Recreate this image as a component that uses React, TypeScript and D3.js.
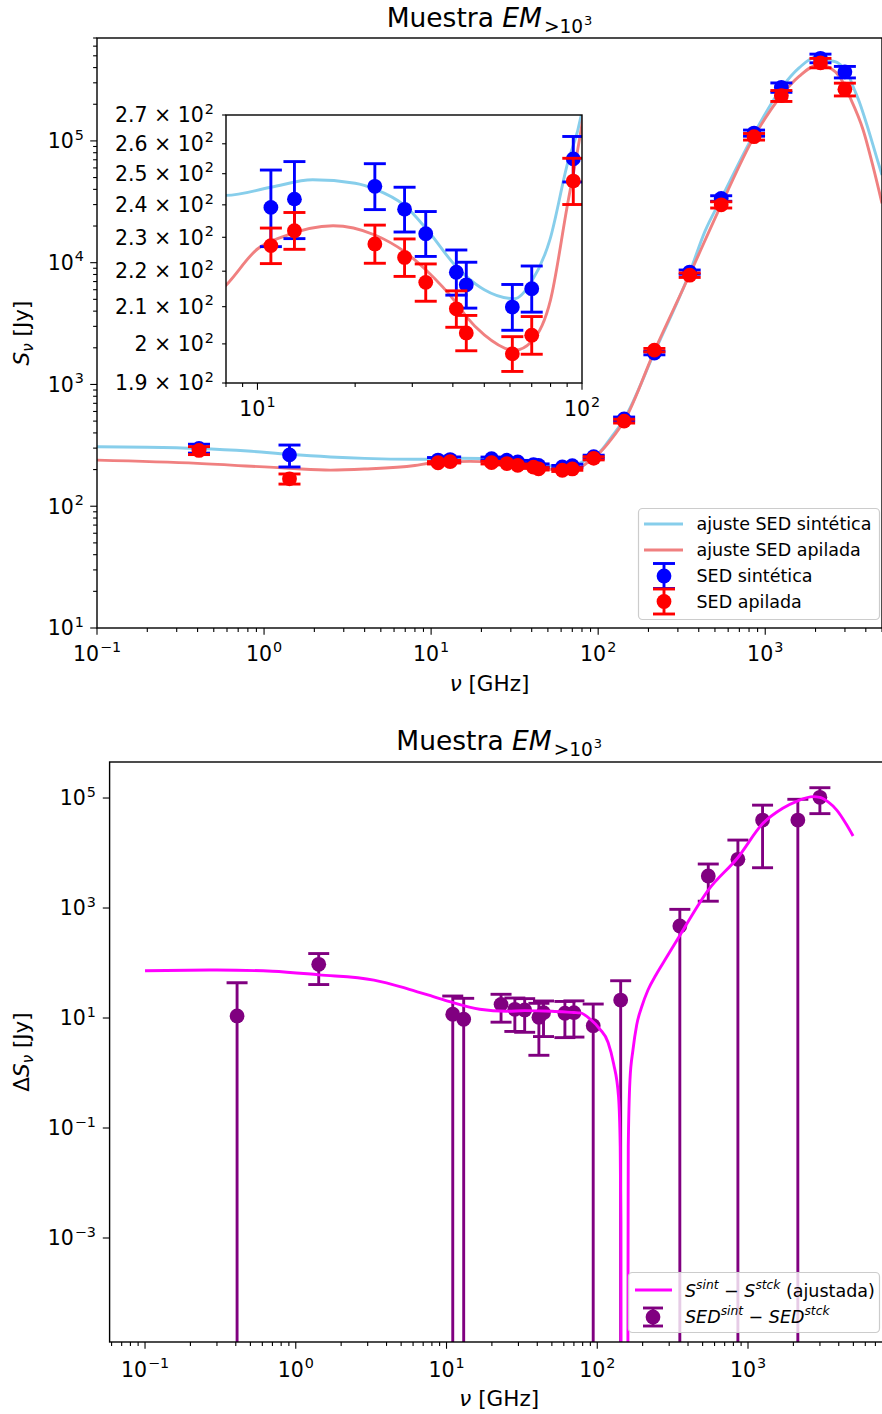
import React from "react";
import * as d3 from "d3";

const FONT = "'DejaVu Sans', sans-serif";

// Frequencies of the SED points (GHz)
const nu = [0.408, 1.42, 11, 13, 23, 28.4, 33, 41, 44, 61, 70, 94, 143, 217, 353, 545, 857, 1249, 2141, 2998];
// Synthetic SED (Jy) and 1-sigma errors
const sedSint = [298, 264, 239.2, 241.8, 245.9, 238.6, 231.1, 219.7, 216.1, 209.9, 215.0, 254.9, 521, 1811, 8370, 33700, 116000, 274900, 477000, 369000];
const sedSintErr = [25, 54, 12.0, 12.2, 7.4, 7.0, 6.8, 6.5, 6.5, 6.3, 6.5, 7.6, 19, 60, 336, 1760, 6740, 24300, 38900, 40000];
// Stacked SED (Jy) and 1-sigma errors
const sedStck = [287, 168, 227.5, 232.0, 228.0, 224.0, 216.8, 209.4, 202.9, 197.4, 202.3, 247.6, 500, 1914, 7900, 29880, 108330, 235100, 437200, 266000];
const sedStckErr = [21.5, 16, 5.3, 5.6, 5.7, 5.5, 5.3, 5.0, 4.7, 4.5, 5.0, 7.5, 18, 62, 336, 1760, 6740, 24300, 38900, 32000];

// Fitted SED models, sampled as [GHz, Jy]
const fitSint: [number, number][] = [
  [0.1, 308], [0.2, 305], [0.4, 298], [0.8, 284], [1.4, 267], [2.5, 254], [4, 247], [8, 243],
  [11, 245.6], [14.8, 248], [20, 246.9], [23, 245], [28.4, 239.8], [33, 232.8], [41, 221.3],
  [44, 218.5], [50, 214.7], [62, 212.2], [70, 217.1], [79.6, 229.2], [89.8, 252.5], [99.7, 270.6],
  [120, 370], [143, 518], [217, 1830], [353, 8300], [435, 18000], [545, 33500], [857, 114000],
  [1249, 272000], [1600, 400000], [2030, 490000], [2500, 455000], [2700, 440000], [2925, 400000],
  [3200, 330000], [3357, 280000], [3700, 200000], [4036, 139000], [4634, 74000], [5000, 52400],
];
const fitStck: [number, number][] = [
  [0.1, 239], [0.4, 225], [1.4, 205], [2.5, 198], [4, 202], [8, 216], [10, 226.5], [12, 230.2],
  [17.1, 233.5], [23, 230.7], [28.4, 225.7], [33, 220.4], [41, 211], [44, 207.3], [50, 202.4],
  [62, 198.3], [70, 200.6], [80, 211.9], [90, 239.5], [99.7, 266], [120, 355], [143, 500],
  [217, 1880], [353, 8000], [545, 29800], [857, 108000], [1249, 236000], [1600, 340000],
  [2075, 420000], [2500, 390000], [2793, 336000], [3206, 230000], [3856, 123000], [4426, 61200],
  [5000, 30700],
];

// Difference between synthetic and stacked SEDs
const nuDiff = [0.408, 1.42, 11, 13, 23, 28.4, 33, 41, 44, 61, 70, 94, 143, 353, 545, 857, 1249, 2141, 2998];
const diffValues = [10.9, 94.6, 11.7, 9.5, 17.7, 14.4, 14.0, 10.3, 12.5, 12.2, 12.5, 7.25, 21.2, 471, 3820, 7670, 39800, 39800, 103000];
const diffErrors = [33, 54, 13.4, 13.3, 9.3, 8.7, 8.5, 8.2, 7.9, 7.8, 8.0, 10.7, 26.4, 475, 2490, 9530, 34400, 55000, 51000];
// Difference of the fitted models (positive part only, split at the sign change)
const diffFitLow: [number, number][] = [
  [0.1, 72.5], [0.3, 74.5], [0.7, 71], [1.42, 61], [3.3, 49], [5.66, 33.3], [8, 25], [10.5, 19.8],
  [16.6, 14.4], [25, 13.3], [33, 13.6], [50, 13.3], [70, 12.6], [77, 12.4], [90, 9.5], [104, 6.3],
  [118, 3.6], [128.2, 1.5], [138.4, 0.37], [142, 0.046], [143.3, 0.002], [143.7, 1e-6],
];
const diffFitHigh: [number, number][] = [
  [159.5, 1e-6], [160.2, 0.002], [160.6, 0.045], [164.8, 0.75], [172.5, 2.62], [182.6, 7.46],
  [198, 16.5], [217, 32.3], [245, 60.5], [281, 113], [348, 297], [545, 2120], [857, 8300],
  [1249, 34000], [1700, 65000], [2141, 89000], [2700, 106000], [2998, 103000], [3400, 85000],
  [3880, 60300], [4500, 33000], [4980, 20400],
];

// Tick label data
const topXExps = [-1, 0, 1, 2, 3];
const topYExps = [1, 2, 3, 4, 5];
const insetXExps = [1, 2];
const insetYTicks = [190, 200, 210, 220, 230, 240, 250, 260, 270];
const insetYMantissas = ["1.9", "2", "2.1", "2.2", "2.3", "2.4", "2.5", "2.6", "2.7"];
const botXExps = [-1, 0, 1, 2, 3];
const botYExps = [-3, -1, 1, 3, 5];

const FS_TICK = 20.5;
const FS_LABEL = 21.5;
const FS_TITLE = 26.5;
const FS_LEG = 17.5;
const LW = 2.9;
const MAJ = 6.8;
const MIN = 3.9;
const SPINE = 1.4;

const COL_SINT_FIT = "#87CEEB";
const COL_STCK_FIT = "#F08080";
const COL_SINT = "#0000FF";
const COL_STCK = "#FF0000";
const COL_DIFF = "#800080";
const COL_DIFF_FIT = "#FF00FF";

const expStr = (e: number) => (e < 0 ? "\u2212" + Math.abs(e) : String(e));
const isDecade = (v: number) => Math.abs(Math.log10(v) - Math.round(Math.log10(v))) < 1e-9;

function Pow10({ x, y, exp, anchor, fs }: { x: number; y: number; exp: number; anchor: "start" | "middle" | "end"; fs: number }) {
  return (
    <text x={x} y={y} textAnchor={anchor} fontSize={fs} fontFamily={FONT} fill="#000">
      <tspan>10</tspan>
      <tspan fontSize={fs * 0.7} dx={1} dy={-fs * 0.42}>{expStr(exp)}</tspan>
    </text>
  );
}

type Scale = d3.ScaleLogarithmic<number, number>;

function ErrorBars({ xs, vs, es, x, y, color, floor, r, capHalf }: {
  xs: number[]; vs: number[]; es: number[]; x: Scale; y: Scale; color: string; floor: number; r: number; capHalf: number;
}) {
  return (
    <g>
      {xs.map((f, i) => {
        const cx = x(f);
        const cy = y(vs[i]);
        const hi = vs[i] + es[i];
        const lo = vs[i] - es[i];
        const yHi = y(hi);
        const yLo = lo > 0 ? y(lo) : floor;
        return (
          <g key={i}>
            <line x1={cx} x2={cx} y1={yHi} y2={yLo} stroke={color} strokeWidth={LW} />
            <line x1={cx - capHalf} x2={cx + capHalf} y1={yHi} y2={yHi} stroke={color} strokeWidth={LW} />
            {lo > 0 && <line x1={cx - capHalf} x2={cx + capHalf} y1={yLo} y2={yLo} stroke={color} strokeWidth={LW} />}
            <circle cx={cx} cy={cy} r={r} fill={color} />
          </g>
        );
      })}
    </g>
  );
}

function curvePath(pts: [number, number][], x: Scale, y: Scale) {
  return (
    d3
      .line<[number, number]>()
      .x((d) => x(d[0]))
      .y((d) => y(d[1]))
      .curve(d3.curveMonotoneX)(pts) || ""
  );
}

function Title({ x, y }: { x: number; y: number }) {
  return (
    <text x={x} y={y} textAnchor="middle" fontSize={FS_TITLE}>
      <tspan>Muestra </tspan>
      <tspan fontStyle="italic">EM</tspan>
      <tspan fontSize={FS_TITLE * 0.7} dx={2} dy={FS_TITLE * 0.22}>{">10"}</tspan>
      <tspan fontSize={FS_TITLE * 0.49} dx={1} dy={-FS_TITLE * 0.3}>3</tspan>
    </text>
  );
}

export default function App() {
  // ---------- Upper panel ----------
  const tL = 97, tR = 882, tT = 38, tB = 628;
  const xT = d3.scaleLog().domain([0.1, 5000]).range([tL, tR]);
  const yT = d3.scaleLog().domain([10, 7e5]).range([tB, tT]);

  // Inset
  const iL = 226, iR = 582, iT = 115, iB = 383;
  const xI = d3.scaleLog().domain([8, 100]).range([iL, iR]);
  const yI = d3.scaleLog().domain([190, 270]).range([iB, iT]);

  // ---------- Lower panel ----------
  const bL = 109.6, bR = 888.8, bT = 762, bB = 1342;
  const xB = d3.scaleLog().domain([Math.pow(10, -1.235), Math.pow(10, 3.934)]).range([bL, bR]);
  const yB = d3.scaleLog().domain([Math.pow(10, -4.891), Math.pow(10, 5.655)]).range([bB, bT]);

  const topXTicks = xT.ticks();
  const topYTicks = yT.ticks();
  const insetXTicks = xI.ticks();
  const botXTicks = xB.ticks();

  const tCx = (tL + tR) / 2;
  const bCx = (bL + bR) / 2;

  return (
    <svg width={882} height={1414} style={{ position: "absolute", left: 0, top: 0, background: "#fff" }} fontFamily={FONT}>
      <defs>
        <clipPath id="clipTop"><rect x={tL} y={tT} width={tR - tL} height={tB - tT} /></clipPath>
        <clipPath id="clipInset"><rect x={iL} y={iT} width={iR - iL} height={iB - iT} /></clipPath>
        <clipPath id="clipBot"><rect x={bL} y={bT} width={bR - bL} height={bB - bT} /></clipPath>
      </defs>
      <rect x={0} y={0} width={882} height={1414} fill="#fff" />

      {/* ===== Upper panel ===== */}
      <Title x={tCx} y={27} />

      <g clipPath="url(#clipTop)">
        <path d={curvePath(fitSint, xT, yT)} fill="none" stroke={COL_SINT_FIT} strokeWidth={LW} />
        <path d={curvePath(fitStck, xT, yT)} fill="none" stroke={COL_STCK_FIT} strokeWidth={LW} />
        <ErrorBars xs={nu} vs={sedSint} es={sedSintErr} x={xT} y={yT} color={COL_SINT} floor={tB + 3} r={7.4} capHalf={11} />
        <ErrorBars xs={nu} vs={sedStck} es={sedStckErr} x={xT} y={yT} color={COL_STCK} floor={tB + 3} r={7.4} capHalf={11} />
      </g>

      {/* axes frame and ticks */}
      <rect x={tL} y={tT} width={tR - tL} height={tB - tT} fill="none" stroke="#000" strokeWidth={SPINE} />
      {topXTicks.map((v, i) => (
        <line key={"tx" + i} x1={xT(v)} x2={xT(v)} y1={tB} y2={tB + (isDecade(v) ? MAJ : MIN)} stroke="#000" strokeWidth={1.1} />
      ))}
      {topYTicks.map((v, i) => (
        <line key={"ty" + i} x1={tL} x2={tL - (isDecade(v) ? MAJ : MIN)} y1={yT(v)} y2={yT(v)} stroke="#000" strokeWidth={1.1} />
      ))}
      {topXExps.map((e) => (
        <Pow10 key={"txl" + e} x={xT(Math.pow(10, e))} y={661} exp={e} anchor="middle" fs={FS_TICK} />
      ))}
      {topYExps.map((e) => (
        <Pow10 key={"tyl" + e} x={84} y={yT(Math.pow(10, e)) + 7.3} exp={e} anchor="end" fs={FS_TICK} />
      ))}
      <text x={tCx} y={691} textAnchor="middle" fontSize={FS_LABEL}>
        <tspan fontStyle="italic">ν</tspan>
        <tspan> [GHz]</tspan>
      </text>
      <text transform={`translate(29,${(tT + tB) / 2}) rotate(-90)`} textAnchor="middle" fontSize={FS_LABEL}>
        <tspan fontStyle="italic">S</tspan>
        <tspan fontStyle="italic" fontSize={FS_LABEL * 0.7} dy={FS_LABEL * 0.2}>ν</tspan>
        <tspan dy={-FS_LABEL * 0.2}> [Jy]</tspan>
      </text>

      {/* legend */}
      <g>
        <rect x={638.5} y={508.5} width={241} height={111} rx={4} fill="#fff" fillOpacity={0.8} stroke="#cccccc" strokeWidth={1.2} />
        <line x1={644} x2={683} y1={524} y2={524} stroke={COL_SINT_FIT} strokeWidth={LW} />
        <line x1={644} x2={683} y1={550} y2={550} stroke={COL_STCK_FIT} strokeWidth={LW} />
        {[{ c: COL_SINT, yy: 576 }, { c: COL_STCK, yy: 601.5 }].map((h, i) => (
          <g key={"lh" + i}>
            <line x1={664} x2={664} y1={h.yy - 12.5} y2={h.yy + 12.5} stroke={h.c} strokeWidth={LW} />
            <line x1={653} x2={675} y1={h.yy - 12.5} y2={h.yy - 12.5} stroke={h.c} strokeWidth={LW} />
            <line x1={653} x2={675} y1={h.yy + 12.5} y2={h.yy + 12.5} stroke={h.c} strokeWidth={LW} />
            <circle cx={664} cy={h.yy} r={7.4} fill={h.c} />
          </g>
        ))}
        {["ajuste SED sintética", "ajuste SED apilada", "SED sintética", "SED apilada"].map((t, i) => (
          <text key={"lt" + i} x={696.5} y={[524, 550, 576, 601.5][i] + 6.3} fontSize={FS_LEG}>{t}</text>
        ))}
      </g>

      {/* inset */}
      <rect x={iL} y={iT} width={iR - iL} height={iB - iT} fill="#fff" />
      <g clipPath="url(#clipInset)">
        <path d={curvePath(fitSint, xI, yI)} fill="none" stroke={COL_SINT_FIT} strokeWidth={LW} />
        <path d={curvePath(fitStck, xI, yI)} fill="none" stroke={COL_STCK_FIT} strokeWidth={LW} />
        <ErrorBars xs={nu} vs={sedSint} es={sedSintErr} x={xI} y={yI} color={COL_SINT} floor={iB + 3} r={7.4} capHalf={11} />
        <ErrorBars xs={nu} vs={sedStck} es={sedStckErr} x={xI} y={yI} color={COL_STCK} floor={iB + 3} r={7.4} capHalf={11} />
      </g>
      <rect x={iL} y={iT} width={iR - iL} height={iB - iT} fill="none" stroke="#000" strokeWidth={SPINE} />
      {insetXTicks.map((v, i) => (
        <line key={"ix" + i} x1={xI(v)} x2={xI(v)} y1={iB} y2={iB + (isDecade(v) ? MAJ : MIN)} stroke="#000" strokeWidth={1.1} />
      ))}
      {insetYTicks.map((v, i) => (
        <line key={"iy" + i} x1={iL} x2={iL - MIN} y1={yI(v)} y2={yI(v)} stroke="#000" strokeWidth={1.1} />
      ))}
      {insetXExps.map((e) => (
        <Pow10 key={"ixl" + e} x={xI(Math.pow(10, e))} y={416} exp={e} anchor="middle" fs={FS_TICK} />
      ))}
      {insetYTicks.map((v, i) => (
        <text key={"iyl" + i} x={214} y={yI(v) + 7.3} textAnchor="end" fontSize={FS_TICK}>
          <tspan>{insetYMantissas[i]} × 10</tspan>
          <tspan fontSize={FS_TICK * 0.7} dx={1} dy={-FS_TICK * 0.42}>2</tspan>
        </text>
      ))}

      {/* ===== Lower panel ===== */}
      <Title x={bCx} y={750} />

      <g clipPath="url(#clipBot)">
        <ErrorBars xs={nuDiff} vs={diffValues} es={diffErrors} x={xB} y={yB} color={COL_DIFF} floor={bB + 5} r={7.4} capHalf={10.5} />
        <path d={curvePath(diffFitLow, xB, yB)} fill="none" stroke={COL_DIFF_FIT} strokeWidth={LW} />
        <path d={curvePath(diffFitHigh, xB, yB)} fill="none" stroke={COL_DIFF_FIT} strokeWidth={LW} />
      </g>
      <rect x={bL} y={bT} width={bR - bL} height={bB - bT} fill="none" stroke="#000" strokeWidth={SPINE} />
      {botXTicks.map((v, i) => (
        <line key={"bx" + i} x1={xB(v)} x2={xB(v)} y1={bB} y2={bB + (isDecade(v) ? MAJ : MIN)} stroke="#000" strokeWidth={1.1} />
      ))}
      {botYExps.map((e) => (
        <line key={"by" + e} x1={bL} x2={bL - MAJ} y1={yB(Math.pow(10, e))} y2={yB(Math.pow(10, e))} stroke="#000" strokeWidth={1.1} />
      ))}
      {botXExps.map((e) => (
        <Pow10 key={"bxl" + e} x={xB(Math.pow(10, e))} y={1377} exp={e} anchor="middle" fs={FS_TICK} />
      ))}
      {botYExps.map((e) => (
        <Pow10 key={"byl" + e} x={96} y={yB(Math.pow(10, e)) + 7.3} exp={e} anchor="end" fs={FS_TICK} />
      ))}
      <text x={bCx} y={1406} textAnchor="middle" fontSize={FS_LABEL}>
        <tspan fontStyle="italic">ν</tspan>
        <tspan> [GHz]</tspan>
      </text>
      <text transform={`translate(29,${(bT + bB) / 2}) rotate(-90)`} textAnchor="middle" fontSize={FS_LABEL}>
        <tspan>Δ</tspan>
        <tspan fontStyle="italic">S</tspan>
        <tspan fontStyle="italic" fontSize={FS_LABEL * 0.7} dy={FS_LABEL * 0.2}>ν</tspan>
        <tspan dy={-FS_LABEL * 0.2}> [Jy]</tspan>
      </text>

      {/* legend */}
      <g>
        <rect x={628.5} y={1272.5} width={251} height={60} rx={4} fill="#fff" fillOpacity={0.8} stroke="#cccccc" strokeWidth={1.2} />
        <line x1={635} x2={672} y1={1290} y2={1290} stroke={COL_DIFF_FIT} strokeWidth={LW} />
        <line x1={653} x2={653} y1={1308} y2={1326} stroke={COL_DIFF} strokeWidth={LW} />
        <line x1={643} x2={663} y1={1308} y2={1308} stroke={COL_DIFF} strokeWidth={LW} />
        <line x1={643} x2={663} y1={1326} y2={1326} stroke={COL_DIFF} strokeWidth={LW} />
        <circle cx={653} cy={1317} r={7.4} fill={COL_DIFF} />
        <text x={685} y={1296.5} fontSize={FS_LEG}>
          <tspan fontStyle="italic">S</tspan>
          <tspan fontStyle="italic" fontSize={FS_LEG * 0.7} dy={-FS_LEG * 0.42}>sint</tspan>
          <tspan dy={FS_LEG * 0.42}> − </tspan>
          <tspan fontStyle="italic">S</tspan>
          <tspan fontStyle="italic" fontSize={FS_LEG * 0.7} dy={-FS_LEG * 0.42}>stck</tspan>
          <tspan dy={FS_LEG * 0.42}> (ajustada)</tspan>
        </text>
        <text x={685} y={1322.5} fontSize={FS_LEG}>
          <tspan fontStyle="italic">SED</tspan>
          <tspan fontStyle="italic" fontSize={FS_LEG * 0.7} dy={-FS_LEG * 0.42}>sint</tspan>
          <tspan dy={FS_LEG * 0.42}> − </tspan>
          <tspan fontStyle="italic">SED</tspan>
          <tspan fontStyle="italic" fontSize={FS_LEG * 0.7} dy={-FS_LEG * 0.42}>stck</tspan>
        </text>
      </g>
    </svg>
  );
}
